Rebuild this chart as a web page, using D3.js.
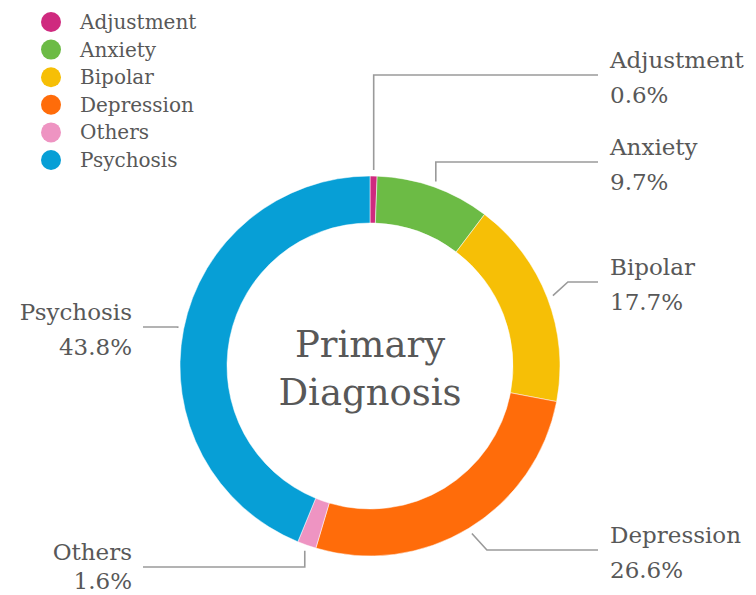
<!DOCTYPE html>
<html><head><meta charset="utf-8">
<script src="https://cdn.jsdelivr.net/npm/d3@7"></script>
<style>
html,body{margin:0;padding:0;background:#fff;}
text{font-family:"DejaVu Serif","Liberation Serif",serif;fill:#585858;}
</style></head>
<body><svg id="chart" width="756" height="595"></svg>
<script>
const categories = ["Adjustment","Anxiety","Bipolar","Depression","Others","Psychosis"];
const values = [0.6, 9.7, 17.7, 26.6, 1.6, 43.8];
const colors = ["#cf2a7f","#6cbb45","#f6bf06","#ff6c0a","#ee94c2","#079fd6"];
const title = ["Primary","Diagnosis"];
// label layout (leader line end y, horizontal bend of the leader)
const labelLineY = [75, 162, 282, 550, 567, 327];
const leaderBend = [0, 0, 15, 15, 0, 0];

const W = 756, H = 595;
const cx = 370, cy = 366, rOuter = 190, rInner = 143;
const svg = d3.select("#chart");
const g = svg.append("g").attr("transform", `translate(${cx},${cy})`);

const pie = d3.pie().sort(null).value(d => d.v);
const data = categories.map((c,i)=>({name:c, v:values[i], color:colors[i], ly:labelLineY[i], bend:leaderBend[i]}));
const arcs = pie(data);
const arc = d3.arc().innerRadius(rInner).outerRadius(rOuter);

g.selectAll("path.slice").data(arcs).enter().append("path")
  .attr("class","slice").attr("d",arc)
  .attr("fill",d=>d.data.color)
  .attr("stroke","#fff").attr("stroke-width",0.5);

// title
g.append("text").attr("text-anchor","middle").attr("y",-22).attr("dy","0.35em")
  .style("font-size","37px").text(title[0]);
g.append("text").attr("text-anchor","middle").attr("y",26).attr("dy","0.35em")
  .style("font-size","37px").text(title[1]);

// leader lines + labels
const rLine = 196;
const rightX = 598, leftX = 143;
arcs.forEach(a=>{
  const mid = (a.startAngle + a.endAngle)/2;
  const px = rLine*Math.sin(mid), py = -rLine*Math.cos(mid);
  const right = Math.sin(mid) >= 0;
  const ly = a.data.ly - cy;
  const ex = px + (right?1:-1)*a.data.bend;
  const endX = (right? rightX: leftX) - cx;
  g.append("path")
    .attr("d", d3.line()([[px,py],[ex,ly],[endX,ly]]))
    .attr("fill","none").attr("stroke","#9a9a9a").attr("stroke-width",1.6);
  const tx = right ? 610 - cx : 132 - cx;
  const anchor = right ? "start" : "end";
  g.append("text").attr("x",tx).attr("y",ly-15).attr("dy","0.35em")
    .attr("text-anchor",anchor).style("font-size","23px").text(a.data.name);
  g.append("text").attr("x",tx).attr("y",Math.min(ly+20, H-cy-14)).attr("dy","0.35em")
    .attr("text-anchor",anchor).style("font-size","23px").text(d3.format(".1f")(a.data.v)+"%");
});

// legend
const lg = svg.append("g");
const legendY = d3.scalePoint().domain(categories).range([22,160]);
categories.forEach((c,i)=>{
  lg.append("circle").attr("cx",51).attr("cy",legendY(c)).attr("r",10).attr("fill",colors[i]);
  lg.append("text").attr("x",80).attr("y",legendY(c)).attr("dy","0.35em")
    .style("font-size","20px").text(c);
});
</script></body></html>
